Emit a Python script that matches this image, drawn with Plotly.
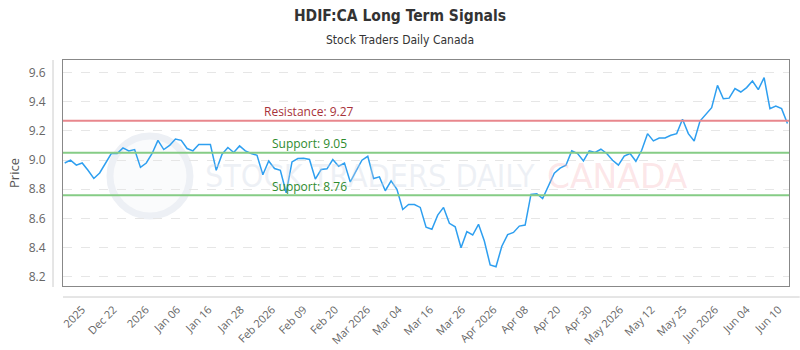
import plotly.graph_objects as go

# ---- data ----
prices = [
    8.98, 9.00, 8.965, 8.98, 8.93, 8.874, 8.912, 8.98, 9.045, 9.045,
    9.083, 9.063, 9.072, 8.95, 8.98, 9.045, 9.135, 9.072, 9.10, 9.144,
    9.135, 9.079, 9.063, 9.106, 9.106, 9.106, 8.93, 9.04, 9.086, 9.052,
    9.097, 9.063, 9.045, 9.033, 8.90, 8.994, 8.942, 8.93, 8.776, 8.987,
    9.01, 9.012, 9.004, 8.87, 8.935, 8.94, 9.004, 8.958, 8.98, 8.85,
    8.926, 8.999, 9.026, 8.874, 8.885, 8.79, 8.858, 8.80, 8.662, 8.696,
    8.696, 8.676, 8.54, 8.526, 8.623, 8.676, 8.567, 8.543, 8.40, 8.51,
    8.487, 8.56, 8.446, 8.282, 8.27, 8.41, 8.49, 8.505, 8.548, 8.555,
    8.765, 8.77, 8.737, 8.83, 8.91, 8.945, 8.965, 9.063, 9.045, 8.994,
    9.063, 9.052, 9.074, 9.045, 8.999, 8.965, 9.028, 9.045, 8.992, 9.067,
    9.181, 9.131, 9.151, 9.151, 9.17, 9.181, 9.279, 9.181, 9.131, 9.267,
    9.313, 9.359, 9.511, 9.42, 9.424, 9.489, 9.466, 9.496, 9.541, 9.482,
    9.564, 9.352, 9.37, 9.352, 9.25,
]
idx = list(range(len(prices)))

tick_labels = ["2025", "Dec 22", "2026", "Jan 06", "Jan 16", "Jan 28", "Feb 2026",
               "Feb 09", "Feb 20", "Mar 2026", "Mar 04", "Mar 16", "Mar 26",
               "Apr 2026", "Apr 08", "Apr 20", "Apr 30", "May 2026", "May 12",
               "May 25", "Jun 2026", "Jun 04", "Jun 10"]
tick_positions = [3.0, 8.4, 13.9, 19.3, 24.7, 30.2, 35.6, 41.0, 46.4, 51.9, 57.3,
                  62.7, 68.2, 73.6, 79.0, 84.5, 89.9, 95.3, 100.7, 106.2, 111.6,
                  117.0, 122.5]

y_ticks = [8.2, 8.4, 8.6, 8.8, 9.0, 9.2, 9.4, 9.6]

resistance = 9.27
supports = [9.05, 8.76]

# ---- figure ----
fig = go.Figure()

PW = 726.3   # plot width in px
PH = 226.0   # plot height in px

# watermark
fig.add_shape(type="circle", xref="paper", yref="paper",
              xsizemode="pixel", ysizemode="pixel",
              xanchor=(150 - 63) / PW, yanchor=(286 - 176) / PH,
              x0=-40, x1=40, y0=-40, y1=40,
              line=dict(color="#edf0f5", width=7), fillcolor="#fafbfc", layer="below")
fig.add_annotation(text="STOCK TRADERS DAILY", xref="paper", yref="paper",
                   x=(203 - 63) / PW, y=(286 - 176) / PH, xanchor="left", yanchor="middle",
                   showarrow=False,
                   font=dict(family="DejaVu Sans Condensed, Liberation Sans Narrow, Roboto, sans-serif",
                             size=32, color="rgba(205,214,228,0.35)"))
fig.add_annotation(text="CANADA", xref="paper", yref="paper",
                   x=(545 - 63) / PW, y=(286 - 176) / PH, xanchor="left", yanchor="middle",
                   showarrow=False,
                   font=dict(family="DejaVu Sans, sans-serif", size=33, color="rgba(245,170,178,0.3)"))

fig.add_trace(go.Scatter(x=idx, y=prices, mode="lines",
                         line=dict(color="#2e9ff0", width=1.5), hoverinfo="skip",
                         showlegend=False))

fig.add_hline(y=resistance, line=dict(color="#e8878d", width=2))
for s in supports:
    fig.add_hline(y=s, line=dict(color="#86cc86", width=2))

fig.add_annotation(text=f"Resistance: {resistance:.2f}", x=33.9, y=resistance, yshift=9,
                   xanchor="left", yanchor="middle", showarrow=False,
                   font=dict(family="Open Sans, sans-serif", size=12, color="#a8323a"))
for s in supports:
    fig.add_annotation(text=f"Support: {s:.2f}", x=35.2, y=s, yshift=9,
                       xanchor="left", yanchor="middle", showarrow=False,
                       font=dict(family="Open Sans, sans-serif", size=12, color="#2e8b2e"))

# outer light axis lines
fig.add_shape(type="line", xref="paper", yref="paper", x0=-10 / PW, x1=-10 / PW,
              y0=-1 / PH, y1=1.0, line=dict(color="#cccccc", width=1))
fig.add_shape(type="line", xref="paper", yref="paper", x0=0, x1=(800 - 63) / PW,
              y0=-11 / PH, y1=-11 / PH, line=dict(color="#cccccc", width=1))

fig.update_layout(
    width=800, height=350,
    margin=dict(l=63, r=11, t=60, b=64, autoexpand=False),
    paper_bgcolor="white", plot_bgcolor="white",
    title=dict(text="<b>HDIF:CA Long Term Signals</b>", x=0.5, xanchor="center",
               y=1 - 16 / 350, yanchor="middle",
               font=dict(family="DejaVu Sans Condensed, Liberation Sans Narrow, Roboto, sans-serif",
                         size=15.5, color="#333333")),
    xaxis=dict(range=[-0.29, 124.27], tickvals=tick_positions, ticktext=tick_labels,
               tickangle=-45, showgrid=False, zeroline=False, automargin=False,
               showline=True, mirror=True, linecolor="#888888", linewidth=1,
               ticks="", ticklabelstandoff=12,
               tickfont=dict(family="Open Sans, sans-serif", size=11, color="#666666")),
    yaxis=dict(range=[8.138, 9.685], tickvals=y_ticks, ticktext=[f"{v:.1f}" for v in y_ticks],
               showgrid=True, gridcolor="#e6e6e6", griddash="dash", zeroline=False,
               showline=True, mirror=True, linecolor="#888888", linewidth=1, ticks="",
               ticklabelstandoff=14, automargin=False,
               title=dict(text="Price", font=dict(family="Open Sans, sans-serif", size=13, color="#555555"),
                          standoff=6),
               tickfont=dict(family="Open Sans, sans-serif", size=12, color="#666666")),
)
fig.add_annotation(text="Stock Traders Daily Canada", xref="paper", yref="paper",
                   x=0.5 - (63 - 11) / 2 / PW, y=1 + (60 - 40) / PH, xanchor="center", yanchor="middle",
                   showarrow=False,
                   font=dict(family="DejaVu Sans Condensed, Liberation Sans Narrow, Roboto, sans-serif",
                             size=12, color="#333333"))

fig.write_html("out.html")
